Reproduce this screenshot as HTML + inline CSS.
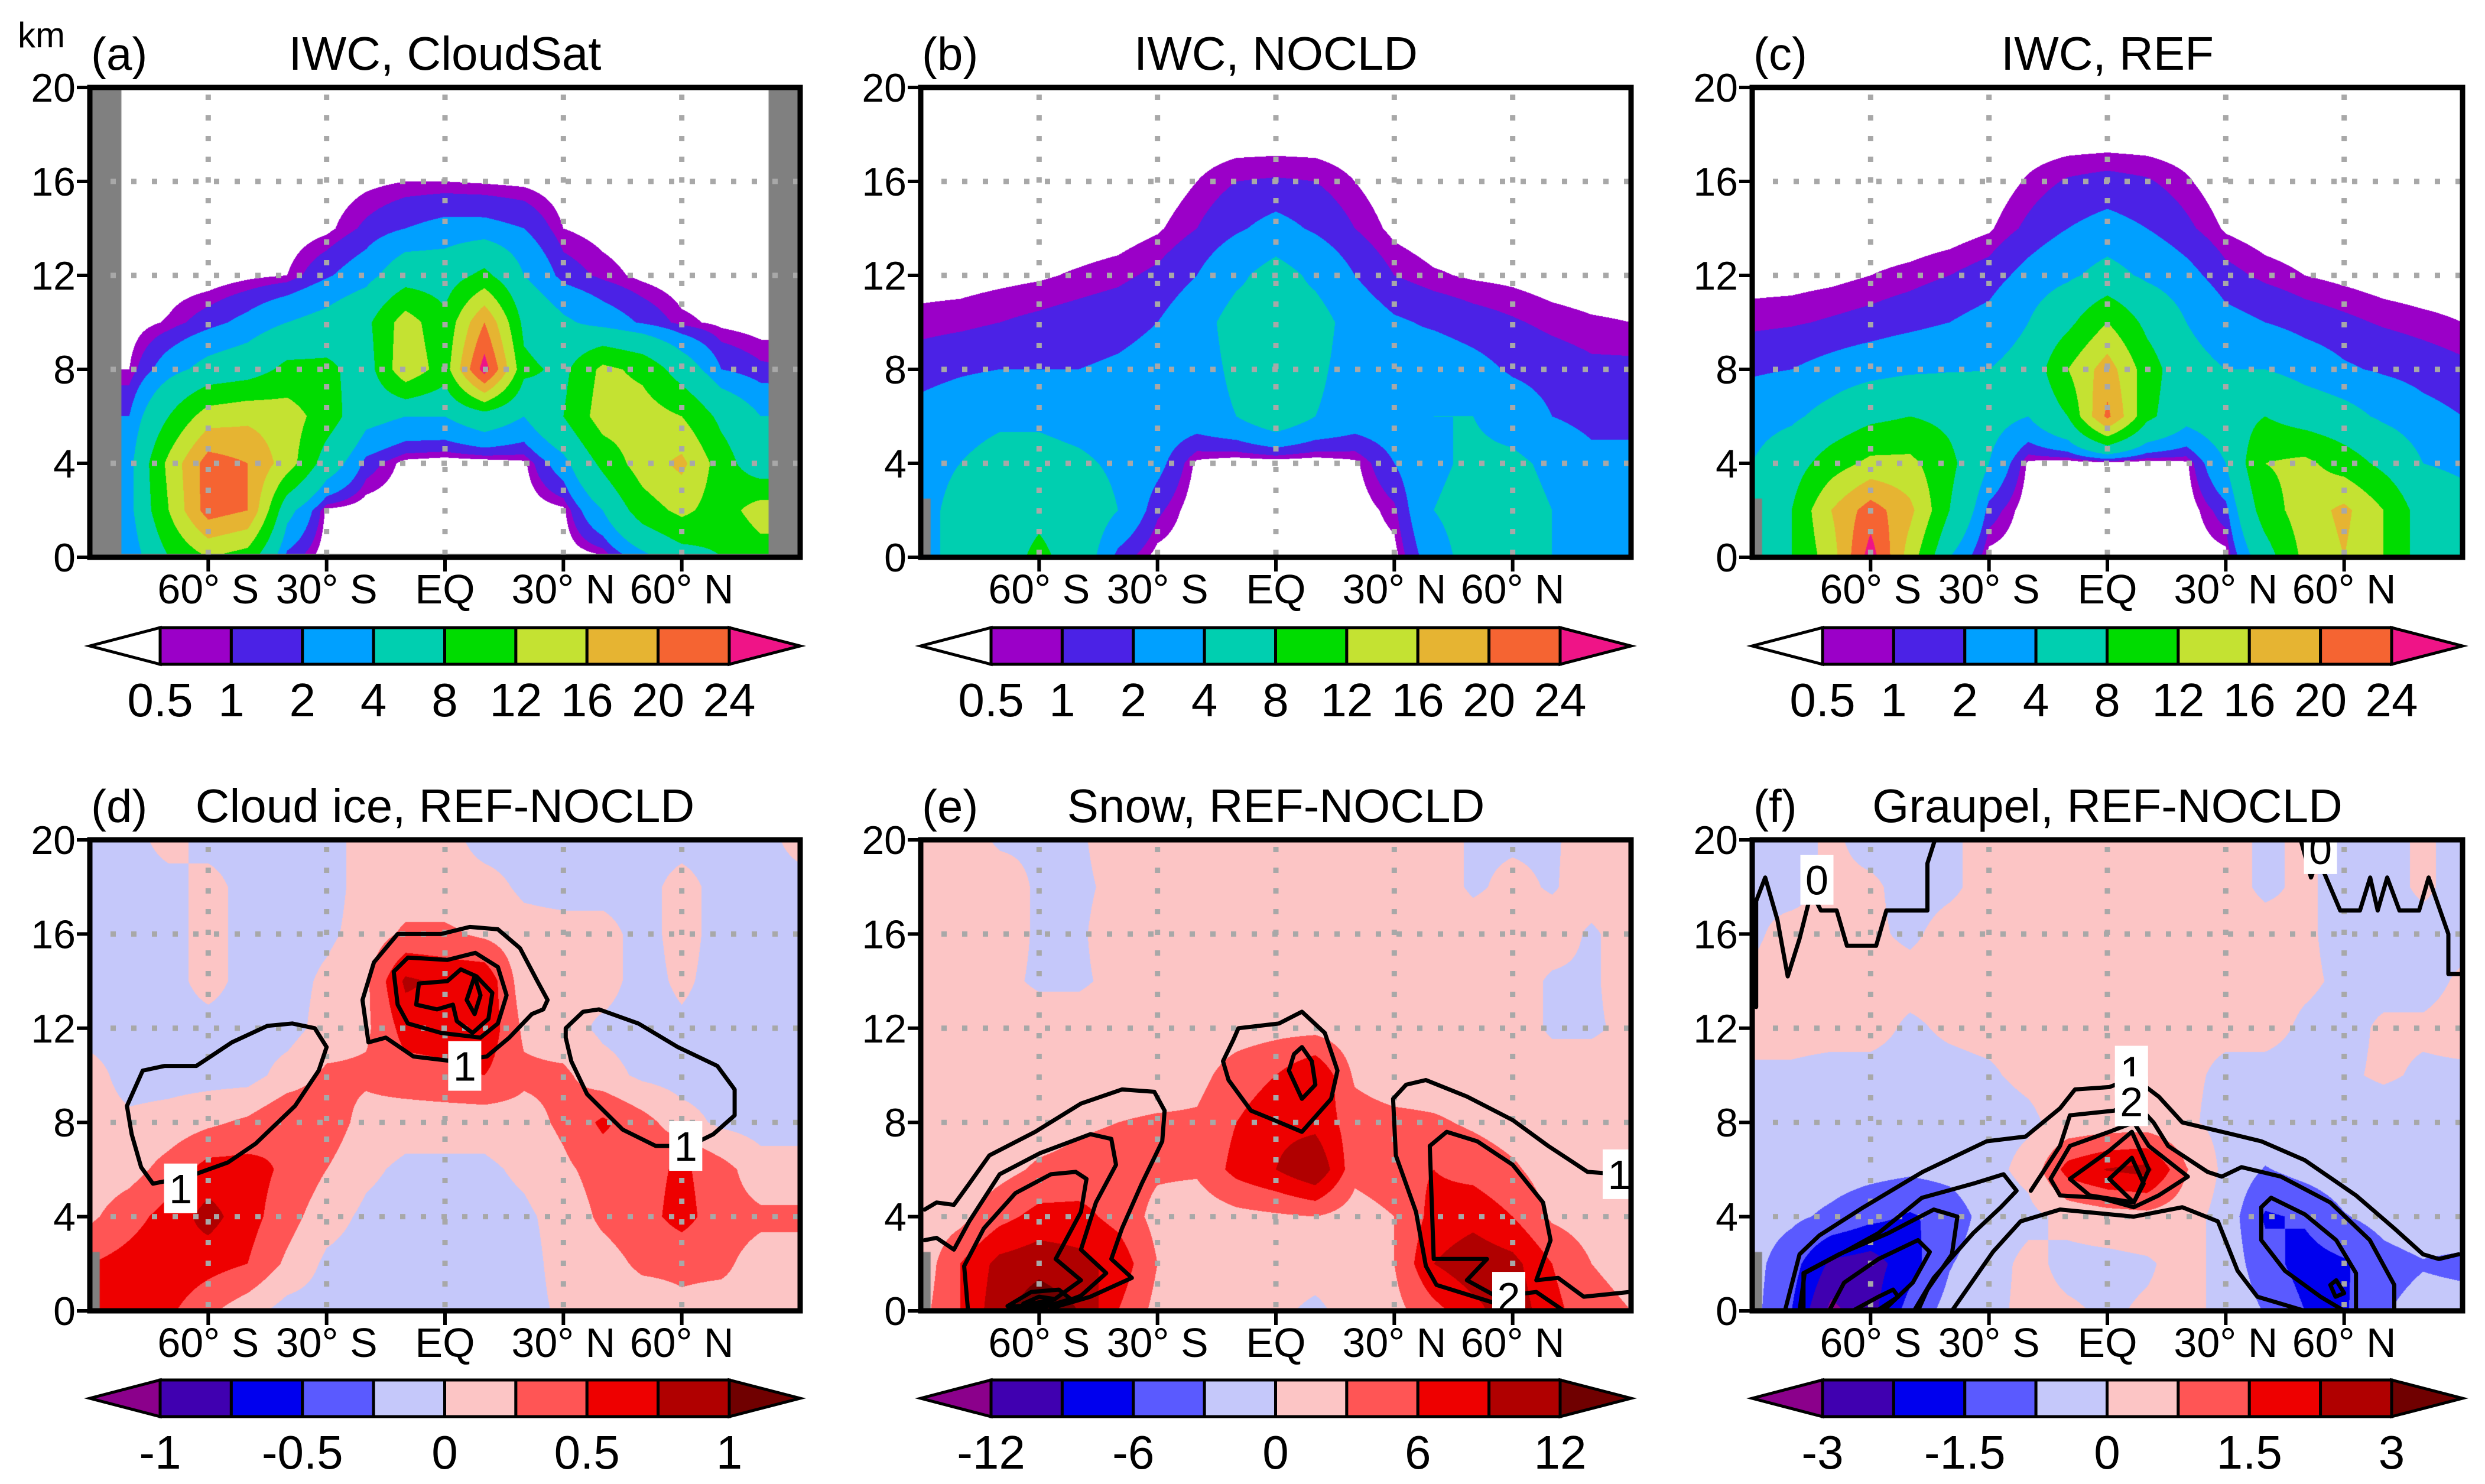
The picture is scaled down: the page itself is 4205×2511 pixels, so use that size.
<!DOCTYPE html>
<html><head><meta charset="utf-8">
<style>
html,body{margin:0;padding:0;background:#fff;}
body{width:4205px;height:2511px;position:relative;overflow:hidden;font-family:"Liberation Sans",Arial,sans-serif;}
canvas{position:absolute;}
svg{position:absolute;left:0;top:0;}
text{font-family:"Liberation Sans",Arial,sans-serif;fill:#000;}
</style></head>
<body>
<div id="root"></div>
<svg id="ov" width="4205" height="2511" viewBox="0 0 4205 2511"></svg>
<script>
// ---------- axes data ----------
const LATS = [-90,-80,-70,-60,-50,-40,-30,-20,-10,0,10,20,30,40,50,60,70,80,90];
const HEIGHTS = [0,2,4,6,8,10,12,14,16,18,20];
const LAT_TICKS = [-60,-30,0,30,60];
const LAT_TICK_LABELS = ['60° S','30° S','EQ','30° N','60° N'];
const H_TICKS = [0,4,8,12,16,20];
const IWC_LEVELS = [0.5,1,2,4,8,12,16,20,24];
const IWC_TICKS = ['0.5','1','2','4','8','12','16','20','24'];
const D_LEVELS = [-1,-0.75,-0.5,-0.25,0,0.25,0.5,0.75,1];
const D_TICKS = ['-1','','-0.5','','0','','0.5','','1'];
const E_LEVELS = [-12,-9,-6,-3,0,3,6,9,12];
const E_TICKS = ['-12','','-6','','0','','6','','12'];
const F_LEVELS = [-3,-2.25,-1.5,-0.75,0,0.75,1.5,2.25,3];
const F_TICKS = ['-3','','-1.5','','0','','1.5','','3'];
const IWC_COLORS = ['#ffffff','#9b00c8','#4b22e6','#00a0ff','#00cfb0','#00dc00','#c4e232','#e6b432','#f56432','#ef1487'];
const DIFF_COLORS = ['#8b008b','#4000b0','#0000ee','#5a5aff','#c5c8fa','#fcc5c5','#ff5555','#ee0000','#b00000','#700000'];

// ---------- fields (rows: height 0..20 km, cols: lat -90..90) ----------
const iwcCloudSat = [
[2,2,8,12,10,1.5,0,0,0,0,0,0,0,0.3,3,6,8,10,10],
[3,3,12,22,20,5,0.3,0,0,0,0,0,0.3,4,10,13,10,14,14],
[3,3,13,22,20,14,6,1.5,0.2,0,0,0.3,3,9,14,17,10,5,5],
[2,2,8,14,15,14,10,5,4,4,6,4,8,14,14,12,7,4,4],
[0.5,0.5,3,5,6,9,9,6,15,10,26,9,7,13,11,6,2,1.2,1.0],
[0.1,0.1,0.6,1.5,2.5,4,5,7,14,9,20,7,4.5,3,1.8,0.7,0.3,0.1,0.1],
[0,0,0,0,0.3,0.5,1.8,3,6,6,9,4,1.5,0.8,0.3,0,0,0,0],
[0,0,0,0,0,0,0.3,1.2,2,2.5,2.5,2,0.5,0.2,0,0,0,0,0],
[0,0,0,0,0,0,0,0.3,0.5,0.5,0.4,0.3,0,0,0,0,0,0,0],
[0,0,0,0,0,0,0,0,0,0,0,0,0,0,0,0,0,0,0],
[0,0,0,0,0,0,0,0,0,0,0,0,0,0,0,0,0,0,0]];
const iwcNocld = [
[3,5,6,9,6,1.5,0.2,0,0,0,0,0,0.2,3,5,5,4,3,3],
[3,5,6,7,6,4,1.2,0,0,0,0,0,0.8,4,5,5,4,3,3],
[3,4,5,5,4.5,3.5,2.5,0.3,0,0,0,0.3,2,3.5,4.5,4.5,3.5,2.5,2.5],
[2.5,3,3.5,3.5,3,2.8,3,3,4,6,4,3,3,4,4,3,2,1.5,1.5],
[1.5,1.8,2,2,2,2.2,2.5,3,4.5,5,4.5,3,2.5,3,2.5,1.8,1.5,1.2,1.2],
[0.7,0.8,1,1.2,1.4,1.6,2,3,5,5,5,3,2.2,1.8,1.4,1.1,0.8,0.6,0.5],
[0.2,0.2,0.3,0.4,0.6,0.8,1.2,2,3.5,5,3.5,2,1,0.6,0.4,0.3,0.1,0,0],
[0,0,0,0,0,0.1,0.4,1,1.8,2.5,1.8,1,0.3,0,0,0,0,0,0],
[0,0,0,0,0,0,0,0.5,1,1.1,1,0.5,0,0,0,0,0,0,0],
[0,0,0,0,0,0,0,0,0,0,0,0,0,0,0,0,0,0,0],
[0,0,0,0,0,0,0,0,0,0,0,0,0,0,0,0,0,0,0]];
const iwcRef = [
[4,8,14,26,14,4,0.2,0,0,0,0,0,0.2,6,13,16,12,6,5],
[4,8,16,22,17,8,1.5,0,0,0,0,0,1.5,10,14,17,12,6,5],
[4,6,10,13,13,9,4,0.3,0,0,0,0.3,4,12,13,10,7,4,3.5],
[3,3.5,5,7,8,7,5,4,8,21,9,5,6,8,6,5,3.5,2.5,2],
[1.8,2,2.5,3,3.5,3.8,4,5,12,18,10,5,4,4,3,2.2,1.8,1.5,1.2],
[0.8,0.9,1.1,1.3,1.6,2,2.5,4,7,12,7,4,2.5,2,1.5,1.2,0.9,0.7,0.5],
[0.2,0.2,0.3,0.5,0.7,1,1.4,2.5,3.5,5,3.5,2.5,1.3,0.8,0.5,0.3,0.1,0,0],
[0,0,0,0,0,0.1,0.4,1.2,2,2.5,2,1.2,0.4,0.1,0,0,0,0,0],
[0,0,0,0,0,0,0,0.6,1.1,1.3,1.1,0.6,0,0,0,0,0,0,0],
[0,0,0,0,0,0,0,0,0,0,0,0,0,0,0,0,0,0,0],
[0,0,0,0,0,0,0,0,0,0,0,0,0,0,0,0,0,0,0]];
const iceDiff = [
[0.6,0.6,0.55,0.3,0.1,-0.1,-0.1,-0.1,-0.1,-0.1,-0.1,-0.1,0.05,0.1,0.1,0.2,0.15,0.2,0.2],
[0.5,0.6,0.7,0.6,0.5,0.2,-0.05,-0.1,-0.1,-0.1,-0.1,-0.1,0.1,0.15,0.3,0.3,0.3,0.15,0.15],
[0.2,0.4,0.6,0.85,0.6,0.35,0.1,-0.05,-0.1,-0.1,-0.1,-0.05,0.1,0.3,0.4,0.6,0.35,0.3,0.3],
[0.1,0.15,0.35,0.6,0.6,0.45,0.25,0.05,-0.05,-0.05,-0.05,0.05,0.2,0.35,0.4,0.55,0.35,0.1,0.1],
[0.1,0.05,0.1,0.2,0.3,0.5,0.4,0.15,0.1,0.1,0.1,0.15,0.3,0.55,0.35,0.1,-0.05,-0.1,-0.1],
[0.1,-0.1,-0.1,-0.1,-0.1,0.1,0.3,0.3,0.4,0.45,0.5,0.3,0.3,0.1,-0.05,-0.1,-0.1,-0.1,-0.1],
[-0.1,-0.1,-0.1,-0.1,-0.1,-0.1,0.1,0.2,0.6,0.6,0.7,0.2,0.1,-0.05,-0.1,-0.05,-0.1,-0.1,-0.1],
[-0.1,-0.1,-0.1,0.1,-0.1,-0.1,0.05,0.2,0.8,0.7,0.7,0.1,0.05,0.1,-0.1,0.05,-0.1,-0.1,-0.1],
[-0.1,-0.1,-0.1,0.1,-0.1,-0.1,-0.05,0.1,0.3,0.3,0.2,0.1,0.1,0.1,-0.1,0.1,-0.1,-0.1,-0.1],
[-0.1,-0.1,-0.1,0.1,-0.1,-0.1,-0.1,0.1,0.1,0.1,0.1,-0.05,-0.1,-0.1,-0.1,0.1,-0.1,-0.1,-0.1],
[-0.1,-0.1,0.1,-0.1,-0.1,-0.1,-0.1,0.1,0.1,0.1,-0.1,-0.1,-0.1,-0.1,-0.1,-0.1,-0.1,-0.1,0.1]];
const snowDiff = [
[2,6,11,14,12,6,2,1,0.5,0.5,-0.5,1,2,5,8,11,7,4,3],
[1,6,10,11,10,8,3,1,1,1,1,1,3,9,11,10,6,3,2],
[1,2,5,7,7,5,2,1,2,2.5,3,1.5,3,7,8,6,2.5,1.5,1],
[1,1,2,3.5,4,4.5,3.5,3.5,7,9,12,4,5,6,5,3.5,1.5,1,1],
[1,1,1,1.5,2.5,3,3.5,3.5,6,8,8,4.5,4,3.5,2.5,1.5,1,1,1],
[1,1,1,1,1,1,1,2,4.5,6,9,2.5,1,1,1,1,1,1,1],
[1,1,1,1,1,1,1,1,1.5,2,2,1,1,1,1,1,-0.3,-0.3,0.5],
[1,1,0.5,-0.3,-0.3,0.5,1,1,1,1,1,1,1,1,1,1,-0.3,-0.3,1],
[1,1,1,-0.3,-0.3,1,1,1,1,1,1,1,1,1,1,1,1,-0.3,1],
[1,1,1,-0.3,-0.4,0.5,1,1,1,1,1,1,1,1,-0.3,0.5,-0.2,1,1],
[1,1,-0.3,-0.3,-0.3,1,1,1,1,1,1,1,1,1,-0.3,-0.3,-0.3,1,1]];
const graupelDiff = [
[-0.5,-1.5,-3.2,-2.5,-1.2,-0.5,-0.2,0.2,0.1,-0.1,0.1,0.2,-0.2,-0.8,-1.5,-1.6,-0.8,-0.5,-0.5],
[-0.5,-1.2,-2.4,-2.6,-1.8,-0.8,-0.3,0.2,-0.2,-0.2,-0.1,0.3,-0.3,-1.2,-1.8,-1.6,-1,-0.8,-0.9],
[-0.4,-0.6,-0.9,-1.3,-1.6,-1.2,-0.4,-0.2,0.2,0.4,0.5,0.3,-0.3,-1.6,-1.4,-0.8,-0.5,-0.3,-0.3],
[-0.3,-0.3,-0.4,-0.5,-0.6,-0.5,-0.2,0.2,1.8,2.3,2.5,0.8,-0.2,-0.8,-0.5,-0.3,-0.3,-0.3,-0.3],
[-0.2,-0.2,-0.2,-0.2,-0.2,-0.2,-0.2,-0.1,0.2,0.3,0.3,0.1,-0.2,-0.2,-0.2,-0.2,-0.2,-0.2,-0.2],
[-0.05,-0.05,-0.1,-0.1,-0.1,-0.1,-0.05,0.1,0.2,0.2,0.2,0.1,-0.1,-0.1,-0.1,-0.05,0.05,-0.05,-0.05],
[0.1,0.1,0.1,0.1,-0.05,0.05,0.1,0.1,0.1,0.1,0.1,0.1,0.1,0.1,-0.05,-0.1,0.05,0.05,0.1],
[0.05,0.1,0.1,0.1,0.1,0.1,0.1,0.1,0.1,0.1,0.1,0.1,0.1,0.1,0.05,-0.05,-0.1,-0.1,0.05],
[-0.05,0.1,0.1,0.05,-0.05,0.1,0.1,0.1,0.1,0.1,0.1,0.1,0.1,0.1,0.05,-0.1,-0.1,-0.1,-0.1],
[-0.05,-0.1,0.05,0.05,-0.1,-0.05,0.1,0.1,0.1,0.1,0.1,0.1,0.1,-0.05,0.05,-0.1,-0.1,0.05,-0.1],
[-0.05,-0.1,0.05,-0.1,-0.1,-0.05,0.1,0.1,0.1,0.1,0.1,0.1,0.1,-0.05,0.05,-0.1,-0.1,0.05,-0.1]];

// ---------- contour lines [lat, km] ----------
const iceContours = [
 {closed:true, pts:[[-80.6,8.7],[-76.6,10.2],[-71,10.4],[-63,10.4],[-54,11.4],[-45,12.1],[-38.7,12.2],[-33,12],[-30,11.2],[-32,10.2],[-38,8.7],[-48,7.1],[-55,6.3],[-65,5.7],[-74,5.4],[-77,6.1],[-79.4,7.5]]},
 {closed:true, pts:[[30.6,12],[35,12.7],[39,12.8],[49,12.2],[59,11.2],[69,10.4],[73.4,9.4],[73.4,8.3],[68,7.5],[62,7],[53.4,7],[45,7.7],[36,9.2],[32,10.6],[30.6,11.6]]},
 {closed:true, pts:[[-19.4,11.4],[-20.9,13.2],[-18,14.8],[-12,16],[-1,16],[6.3,16.3],[13.4,16.2],[19,15.4],[23.4,14],[26,13.2],[24.9,12.8],[22,12.6],[16.3,11.6],[10.6,10.8],[2,10.6],[-8,10.8],[-15,11.6]]},
 {closed:true, pts:[[-12,13],[-13,14.4],[-9.4,15],[0.6,14.9],[7.7,15.2],[13.4,14.6],[15.6,13.4],[13.4,12.2],[9,11.6],[-1,11.8],[-9.4,12.2]]},
 {closed:true, pts:[[-7.3,13],[-6.6,13.9],[0.6,14],[4,14.5],[8,14.2],[12,13.5],[11,12.4],[7,11.8],[3,12.3],[2,13],[-2,12.8]]},
 {closed:true, pts:[[5.5,13.2],[7.5,14.2],[9,13.4],[7.5,12.6]]}];
const iceLabels = [[-67,5.2,'1'],[5,10.4,'1'],[61,7,'1']];
const snowContours = [
 {closed:true, pts:[[-9.5,12],[0.8,12.2],[6.6,12.7],[12.4,11.8],[15.6,10.2],[14,9],[6.6,7.6],[-0.5,8.1],[-6.3,8.5],[-12,9.8],[-13.4,10.6],[-10.8,11.5]]},
 {closed:true, pts:[[6.6,11.2],[9.1,10.6],[10,9.6],[6.6,9],[3.3,10.2],[4.6,10.9]]},
 {closed:false, pts:[[-89,4.3],[-86,4.6],[-81.6,4.5],[-77.7,5.4],[-72.6,6.6],[-61,7.6],[-49.4,8.8],[-39,9.4],[-30.8,9.3],[-28.2,8.5],[-28.8,7.2],[-34,5.4],[-39,3.5],[-41.7,2.2],[-36.5,1.4],[-47,0.6],[-56,0.16]]},
 {closed:false, pts:[[-89,3],[-86,3.1],[-81.6,2.6],[-77.7,3.8],[-70,5.8],[-59.7,6.7],[-47,7.5],[-41.7,7.3],[-40.5,6.2],[-45.6,4.6],[-49.4,2.6],[-43,1.6],[-49.4,0.64],[-57,0.16]]},
 {closed:false, pts:[[-78,0],[-79,1.9],[-74,3.5],[-66,5],[-57,5.8],[-50.7,5.9],[-48,5.6],[-49.4,4.2],[-55.8,2.2],[-49.4,1.3],[-56,0.5],[-66,0.16]]},
 {closed:true, pts:[[-68,0.2],[-62,0.8],[-55,0.9],[-52,0.5],[-58,0.2]]},
 {closed:true, pts:[[-64,0.3],[-60,0.6],[-56,0.5],[-59,0.25]]},
 {closed:false, pts:[[89,5.8],[87,5.8],[79,5.9],[69,7],[60,8.1],[48.4,9.1],[38,9.8],[33,9.6],[29.7,9],[30.4,6.6],[35.5,4.2],[38,1.9],[40.7,1.1],[56,0.3]]},
 {closed:false, pts:[[89.6,0.8],[78,0.6],[71.5,1.4],[66,1.3],[69.6,3],[67.7,4.6],[60,6.2],[51,7.2],[43.3,7.6],[39,7],[40,2.2],[53.5,2.2],[48.4,1.3],[56,0.6],[66,0.8],[73,0]]}];
const snowLabels = [[87,5.8,'1'],[59,0.6,'2']];
const graupelContours = [
 {closed:false, pts:[[-89,12.9],[-89,17.4],[-86.7,18.4],[-83.6,16.6],[-81,14.2],[-78,15.8],[-75,17.8],[-72.6,17],[-68.6,17],[-66,15.5],[-58.6,15.5],[-56,17],[-45.6,17],[-45.6,19],[-43.7,20]]},
 {closed:false, pts:[[49,20],[51.6,18.4],[53.4,19.2],[59,17],[64,17],[66.6,18.4],[68.5,17],[70.9,18.4],[74,17],[79,17],[81.4,18.4],[86.4,16],[86.4,14.3],[89.5,14.3]]},
 {closed:false, pts:[[-81.7,0],[-78,2.4],[-73,3.2],[-61.8,4.4],[-46.8,5.9],[-30.6,7.2],[-20.7,7.4],[-12,8.6],[-8.2,9.4],[0.5,9.5],[6.7,9.9],[13,9.1],[19,8],[31.6,7.5],[39,7.2],[50,6.4],[63,4.9],[72.7,3.5],[80,2.4],[84,2.2],[89,2.4]]},
 {closed:false, pts:[[-78,0],[-76.7,1.6],[-66.7,2.5],[-58,3.3],[-47,4.8],[-34,5.4],[-26.3,5.8],[-23,5.1],[-27,4.4],[-34,3.3],[-44,1.4],[-49,0]]},
 {closed:false, pts:[[-19.4,5.1],[-12,7],[-9.5,8.3],[1.7,8.5],[6.7,8.9],[11.7,8],[15.4,7],[25.4,5.9],[29,5.7],[34,6.1],[44,5.7],[56.5,4.6],[66.5,3],[72.7,1.1],[72.7,0]]},
 {closed:false, pts:[[-39.4,0],[-29,2.5],[-22,3.8],[-12,4.3],[0.5,4.1],[6.7,4],[19,4.4],[28,3.8],[33,1.7],[38,0.6],[50,0]]},
 {closed:true, pts:[[-14.4,5.6],[-9.5,7],[0.5,7.6],[6.7,8],[10.5,7],[20.4,5.7],[13,4.9],[6.7,4.4],[-2,4.8],[-12,4.9]]},
 {closed:true, pts:[[-9.5,5.6],[0.5,6.8],[6.2,7.6],[10.5,6],[6.7,4.6],[-4.5,4.9]]},
 {closed:true, pts:[[0.5,5.6],[6.2,6.5],[9.2,5.4],[6.7,4.6]]},
 {closed:true, pts:[[56.5,1.1],[58,1.3],[60,0.75],[57.8,0.6]]},
 {closed:false, pts:[[63,0],[63,1.6],[58,3],[50,4.1],[41.5,4.8],[39,4.4],[39,3],[45,1.7],[54,0.6],[60,0]]},
 {closed:false, pts:[[-77,0],[-77,1.6],[-68,2.4],[-55.5,3.3],[-44,4.3],[-38,4],[-39.4,2.4],[-45.6,0.9],[-48,0]]},
 {closed:false, pts:[[-70.5,0],[-66.7,1.2],[-58,2.2],[-48,3],[-45,2.5],[-49.3,1.2],[-56.8,0]]},
 {closed:true, pts:[[-64,0.05],[-58,0.6],[-54.3,0.9],[-53,0.6],[-58,0.05]]}];
const graupelLabels = [[-73.6,18.3,'0'],[54,19.6,'0'],[6.1,10.2,'1'],[6.1,8.9,'2']];

// ---------- layout ----------
const PW = 1202;
const PANELS = [
 {key:'a',tag:'(a)',title:'IWC, CloudSat',x:152,y:148,h:795,grid:iwcCloudSat,levels:IWC_LEVELS,colors:IWC_COLORS,ticks:IWC_TICKS,gray:'full',contours:[],labels:[]},
 {key:'b',tag:'(b)',title:'IWC, NOCLD',x:1558,y:148,h:795,grid:iwcNocld,levels:IWC_LEVELS,colors:IWC_COLORS,ticks:IWC_TICKS,gray:'small',contours:[],labels:[]},
 {key:'c',tag:'(c)',title:'IWC, REF',x:2965,y:148,h:795,grid:iwcRef,levels:IWC_LEVELS,colors:IWC_COLORS,ticks:IWC_TICKS,gray:'small',contours:[],labels:[]},
 {key:'d',tag:'(d)',title:'Cloud ice, REF-NOCLD',x:152,y:1421,h:797,grid:iceDiff,levels:D_LEVELS,colors:DIFF_COLORS,ticks:D_TICKS,gray:'small',contours:iceContours,labels:iceLabels},
 {key:'e',tag:'(e)',title:'Snow, REF-NOCLD',x:1558,y:1421,h:797,grid:snowDiff,levels:E_LEVELS,colors:DIFF_COLORS,ticks:E_TICKS,gray:'small',contours:snowContours,labels:snowLabels},
 {key:'f',tag:'(f)',title:'Graupel, REF-NOCLD',x:2965,y:1421,h:797,grid:graupelDiff,levels:F_LEVELS,colors:DIFF_COLORS,ticks:F_TICKS,gray:'small',contours:graupelContours,labels:graupelLabels}];

const NS='http://www.w3.org/2000/svg';
const ov=document.getElementById('ov');
const root=document.getElementById('root');
function mk(tag,attrs,parent){const e=document.createElementNS(NS,tag);for(const k in attrs)e.setAttribute(k,attrs[k]);(parent||ov).appendChild(e);return e;}
function hexToRgb(h){return [parseInt(h.substr(1,2),16),parseInt(h.substr(3,2),16),parseInt(h.substr(5,2),16)];}
function sample(grid,lat,km){
  let fi=(lat+90)/10, fj=km/2;
  let i=Math.min(17,Math.max(0,Math.floor(fi))), j=Math.min(9,Math.max(0,Math.floor(fj)));
  const tx=Math.min(1,Math.max(0,fi-i)), ty=Math.min(1,Math.max(0,fj-j));
  const a=grid[j][i],b=grid[j][i+1],c=grid[j+1][i],d=grid[j+1][i+1];
  return (a*(1-tx)+b*tx)*(1-ty)+(c*(1-tx)+d*tx)*ty;
}

PANELS.forEach(p=>{
  const xs=lat=>p.x+(lat+90)/180*PW;
  const ys=km=>p.y+p.h-km/20*p.h;
  const cv=document.createElement('canvas');
  
  
  cv.width=PW; cv.height=p.h;
  cv.style.left=p.x+'px'; cv.style.top=p.y+'px';
  root.appendChild(cv);
  const ctx=cv.getContext('2d');
  const img=ctx.createImageData(PW,p.h);
  const rgb=p.colors.map(hexToRgb);
  for(let py=0;py<p.h;py++){
    const km=20-(py+0.5)/p.h*20;
    for(let px=0;px<PW;px++){
      const lat=-90+(px+0.5)/PW*180;
      const v=sample(p.grid,lat,km);
      let k=0; while(k<p.levels.length && v>=p.levels[k]) k++;
      const c=rgb[k], o=(py*PW+px)*4;
      img.data[o]=c[0];img.data[o+1]=c[1];img.data[o+2]=c[2];img.data[o+3]=255;
    }
  }
  ctx.putImageData(img,0,0);
  ctx.fillStyle='#808080';
  if(p.gray==='full'){
    ctx.fillRect(0,0,(8/180)*PW,p.h);
    ctx.fillRect(PW-(8/180)*PW,0,(8/180)*PW,p.h);
    ctx.fillRect(0,p.h-6,PW,6);
  } else {
    ctx.fillRect(0,p.h-(2.5/20)*p.h,(2.5/180)*PW,(2.5/20)*p.h);
  }

  const g=mk('g',{});
  const clipId='clip-'+p.key;
  const cp=mk('clipPath',{id:clipId},g);
  mk('rect',{x:p.x,y:p.y,width:PW,height:p.h},cp);
  const gg=mk('g',{stroke:'#a8a8a8','stroke-width':9,'stroke-dasharray':'9 26',fill:'none'},g);
  LAT_TICKS.forEach(l=>mk('line',{x1:xs(l),x2:xs(l),y1:p.y+12,y2:p.y+p.h,},gg));
  [4,8,12,16].forEach(h=>mk('line',{x1:p.x+35,x2:p.x+PW,y1:ys(h),y2:ys(h),},gg));
  const cg=mk('g',{'clip-path':'url(#'+clipId+')',stroke:'#000','stroke-width':7,fill:'none','stroke-linejoin':'round','stroke-linecap':'round'},g);
  p.contours.forEach(c=>{
    let d=c.pts.map((q,i)=>(i?'L':'M')+xs(q[0]).toFixed(1)+' '+ys(q[1]).toFixed(1)).join(' ');
    if(c.closed) d+=' Z';
    mk('path',{d:d,},cg);
  });
  p.labels.forEach(l=>{
    const lg=mk('g',{'clip-path':'url(#'+clipId+')'},g);
    mk('rect',{x:xs(l[0])-28,y:ys(l[1])-42,width:56,height:84,fill:'#fff'},lg);
    const t=mk('text',{x:xs(l[0]),y:ys(l[1])+25,'text-anchor':'middle','font-size':70},lg);
    t.textContent=l[2];
  });
  mk('rect',{x:p.x,y:p.y,width:PW,height:p.h,fill:'none',stroke:'#000','stroke-width':9,},g);
  const ya=mk('g',{},g);
  H_TICKS.forEach(h=>{
    mk('line',{x1:p.x-22,x2:p.x,y1:ys(h),y2:ys(h),stroke:'#000','stroke-width':6,},ya);
    const t=mk('text',{x:p.x-24,y:ys(h)+24,'text-anchor':'end','font-size':68,},ya);
    t.textContent=String(h);
  });
  const xa=mk('g',{},g);
  LAT_TICKS.forEach((l,i)=>{
    mk('line',{x1:xs(l),x2:xs(l),y1:p.y+p.h,y2:p.y+p.h+24,stroke:'#000','stroke-width':6,},xa);
    const t=mk('text',{x:xs(l),y:p.y+p.h+78,'text-anchor':'middle','font-size':70,},xa);
    t.textContent=LAT_TICK_LABELS[i];
  });
  const tg=mk('text',{x:p.x+2,y:p.y-30,'font-size':78,},g);
  tg.textContent=p.tag;
  const tt=mk('text',{x:p.x+PW/2,y:p.y-30,'text-anchor':'middle','font-size':80,},g);
  tt.textContent=p.title;
  const cb=mk('g',{},g);
  const top=p.y+914, hgt=62, bx0=p.x+119, bx1=p.x+1082, bw=(bx1-bx0)/8;
  mk('polygon',{points:`${p.x},${top+hgt/2} ${bx0},${top} ${bx0},${top+hgt}`,fill:p.colors[0],stroke:'#000','stroke-width':5,},cb);
  mk('polygon',{points:`${p.x+PW},${top+hgt/2} ${bx1},${top} ${bx1},${top+hgt}`,fill:p.colors[9],stroke:'#000','stroke-width':5,},cb);
  for(let k=0;k<8;k++){
    mk('rect',{x:bx0+k*bw,y:top,width:bw,height:hgt,fill:p.colors[k+1],stroke:'#000','stroke-width':5,},cb);
  }
  p.ticks.forEach((s,k)=>{
    if(!s) return;
    const t=mk('text',{x:bx0+k*bw,y:top+hgt+88,'text-anchor':'middle','font-size':80,},cb);
    t.textContent=s;
  });
});
const km=mk('text',{x:30,y:80,'font-size':60,});
km.textContent='km';
</script>
</body></html>
